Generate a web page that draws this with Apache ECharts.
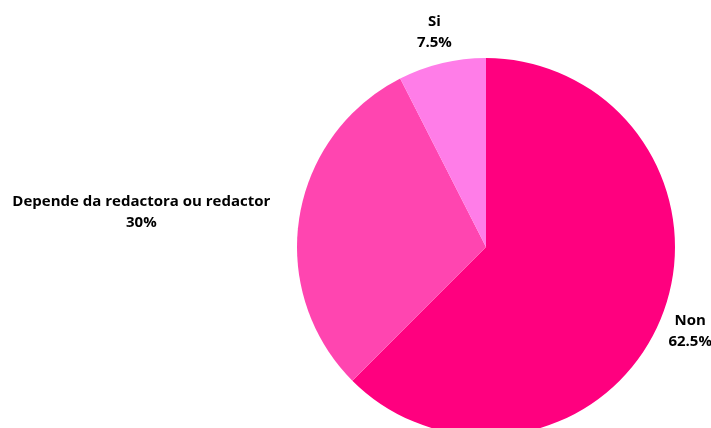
<!DOCTYPE html>
<html><head><meta charset="utf-8">
<script src="https://cdn.jsdelivr.net/npm/echarts@6/dist/echarts.min.js"></script>
<style>html,body{margin:0;padding:0;background:#fff}#c{width:711px;height:428px}</style>
</head><body><div id="c"></div>
<script>
const categories = ["Non", "Depende da redactora ou redactor", "Si"];
const values = [62.5, 30, 7.5];
const colors = ["#FF007F", "#FF45B0", "#FF7DE8"];

const CX = 486, CY = 247, R = 189;

function rectHitsCircle(x, y, w, h) {
  const nx = Math.max(x, Math.min(CX, x + w));
  const ny = Math.max(y, Math.min(CY, y + h));
  return (nx - CX) * (nx - CX) + (ny - CY) * (ny - CY) < R * R;
}

const chart = echarts.init(document.getElementById('c'), null, {renderer: 'canvas'});
chart.setOption({
  animation: false,
  series: [{
    type: 'pie',
    center: [CX, CY],
    radius: R,
    startAngle: 90,
    clockwise: true,
    data: categories.map((n, i) => ({name: n, value: values[i], itemStyle: {color: colors[i]}})),
    label: {
      show: true,
      position: 'outside',
      overflow: 'none',
      formatter: p => '{a|' + p.name + '}\n{a|' + p.value + '%}',
      rich: { a: { align: 'center', fontFamily: 'Open Sans', fontWeight: 'bold', fontSize: 15, lineHeight: 21, color: '#000' } }
    },
    labelLine: { show: true, length: 32, length2: 0, lineStyle: { opacity: 0, width: 0 } },
    labelLayout: function (p) {
      const pts = p.labelLinePoints;
      if (!pts) return {};
      const end = pts[pts.length - 1];
      const w = p.labelRect.width, h = p.labelRect.height;
      const ax = end[0], ay = end[1];
      if (!rectHitsCircle(ax - w / 2, ay - h / 2, w, h)) {
        return { x: ax, y: ay, align: 'center', verticalAlign: 'middle' };
      }
      return { x: ax, y: ay, align: ax < CX ? 'right' : 'left', verticalAlign: 'middle' };
    }
  }]
});
</script></body></html>
